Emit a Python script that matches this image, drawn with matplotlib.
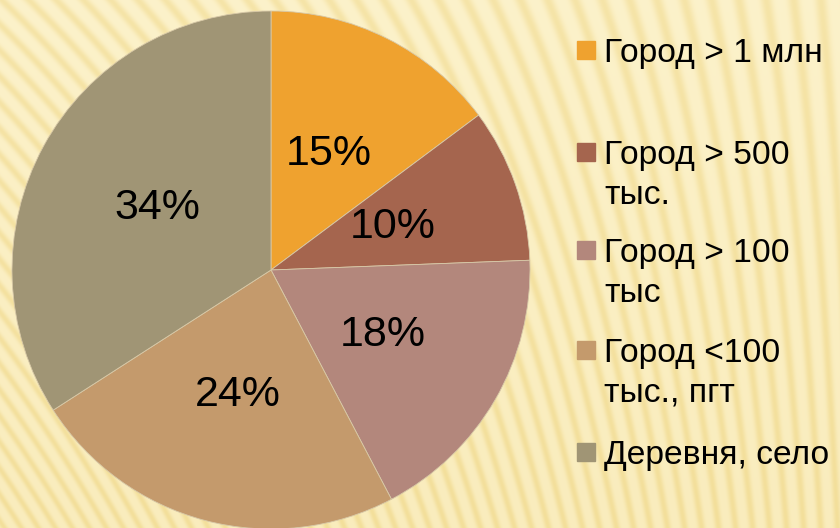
import matplotlib.pyplot as plt
import numpy as np
from matplotlib.patches import Rectangle

# доли по типу населённого пункта (%)
labels = ['Город > 1 млн', 'Город > 500\nтыс.', 'Город > 100\nтыс', 'Город <100\nтыс., пгт', 'Деревня, село']
values = [14.8, 9.6, 17.9, 23.6, 34.1]
colors = ['#EFA22F', '#A5654E', '#B3877C', '#C49A6C', '#A09575']

fig = plt.figure(figsize=(8.4, 5.28), dpi=100)

# фон: мягкие диагональные полосы, к правому краю почти вертикальные
bg = fig.add_axes([0, 0, 1, 1])
yy, xx = np.mgrid[0:528, 0:840]
k = 0.65 - 0.6 * xx / 840
phase = (xx + (528 - yy) * k) / 17.0
stripes = (0.5 + 0.5 * np.sin(2 * np.pi * phase)) ** 2
t = yy / 528
light = np.array([253, 244, 208]) / 255
dark = np.array([246, 229, 170]) / 255
base = light + (dark - light) * (0.15 + 0.35 * t)[..., None]
img = base + (dark - light) * (0.9 * stripes)[..., None]
bg.imshow(np.clip(img, 0, 1), aspect='auto')
bg.axis('off')

ax = fig.add_axes([12 / 840, -1 / 528, 518 / 840, 518 / 528])
wedges, texts, autotexts = ax.pie(values, colors=colors, startangle=90, counterclock=False,
                                  autopct='%.0f%%', pctdistance=0.5,
                                  wedgeprops=dict(linewidth=0.6, edgecolor='#d8c9a8'),
                                  textprops=dict(fontsize=31, family='Liberation Sans', color='black'))
ax.set_xlim(-1, 1)
ax.set_ylim(-1, 1)

# легенда справа, каждая строка отдельно
ys = [50, 152, 250, 350, 452]
for y, lab, c in zip(ys, labels, colors):
    fig.add_artist(Rectangle((577 / 840, 1 - (y + 9) / 528), 18 / 840, 18 / 528,
                             transform=fig.transFigure, color=c))
    for i, line in enumerate(lab.split('\n')):
        fig.text(604 / 840, 1 - (y + 12 + i * 40) / 528, line, fontsize=24.2,
                 family='Liberation Sans', va='baseline', ha='left')

fig.savefig('out.png', dpi=100)
